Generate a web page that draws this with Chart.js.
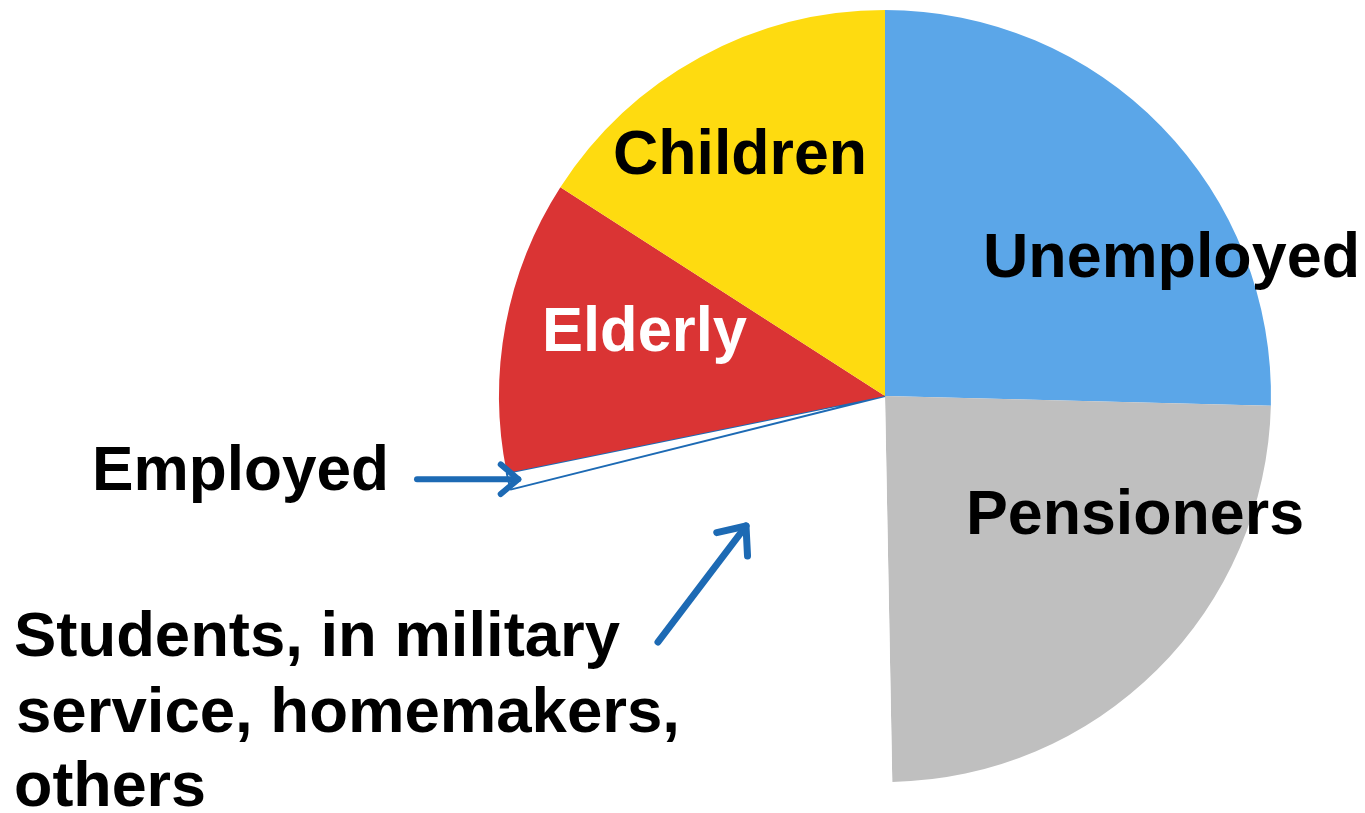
<!DOCTYPE html>
<html lang="en">
<head>
  <meta charset="UTF-8">
  <title>Population groups</title>
  <script src="https://cdn.jsdelivr.net/npm/chart.js@4.4.1/dist/chart.umd.min.js"></script>
  <style>
    body { margin: 0; background: #fff; }
    canvas { display: block; }
  </style>
</head>
<body>

  <canvas id="pie" width="1365" height="813"></canvas>

  <script>

  // slices, clockwise from 12 o'clock (share in %)
  const groups = ['Unemployed', 'Pensioners', 'Students, in military service, homemakers, others', 'Employed', 'Elderly', 'Children'];
  const shares = [25.4, 24.3, 21.4, 0.7, 12.3, 15.9];
  const colors = ['#5ba6e8', '#bfbfbf', '#ffffff', '#ffffff', '#da3434', '#fedb10'];

  const arrowBlue = '#1d6ab4';

  // text lines: [text, left, baseline, width, colour]
  const texts = [
    ['Children', 613, 174, 254, '#000'],
    ['Unemployed', 983, 277, 377, '#000'],
    ['Elderly', 542, 351, 205, '#fff'],
    ['Pensioners', 966, 534, 338, '#000'],
    ['Employed', 92, 490, 297, '#000'],
    ['Students, in military', 14, 656, 606, '#000'],
    ['service, homemakers,', 16, 732, 664, '#000'],
    ['others', 14, 806, 192, '#000']
  ];

  function drawText(ctx, t) {
    ctx.font = 'bold 63px "Liberation Sans", Arial, sans-serif';
    const m = ctx.measureText(t[0]).width;
    ctx.save();
    ctx.translate(t[1], t[2]);
    ctx.scale(t[3] / m, 1);
    ctx.fillStyle = t[4];
    ctx.textBaseline = 'alphabetic';
    ctx.fillText(t[0], 0, 0);
    ctx.restore();
  }

  function arrow(ctx, x0, y0, x1, y1, head, width) {
    const a = Math.atan2(y1 - y0, x1 - x0);
    ctx.save();
    ctx.strokeStyle = arrowBlue;
    ctx.lineWidth = width;
    ctx.lineCap = 'round';
    ctx.lineJoin = 'round';
    ctx.beginPath();
    ctx.moveTo(x0, y0);
    ctx.lineTo(x1, y1);
    ctx.stroke();
    ctx.beginPath();
    ctx.moveTo(x1 - head * Math.cos(a - 0.7), y1 - head * Math.sin(a - 0.7));
    ctx.lineTo(x1, y1);
    ctx.lineTo(x1 - head * Math.cos(a + 0.7), y1 - head * Math.sin(a + 0.7));
    ctx.stroke();
    ctx.restore();
  }

  const annotations = {
    id: 'annotations',
    afterDraw(chart) {
      const ctx = chart.ctx;
      texts.forEach(t => drawText(ctx, t));

      // arrow into the thin "Employed" slice
      const emp = chart.getDatasetMeta(0).data[3];
      const mid = (emp.startAngle + emp.endAngle) / 2;
      const tipX = emp.x + (emp.outerRadius - 10) * Math.cos(mid);
      const tipY = emp.y + (emp.outerRadius - 10) * Math.sin(mid);
      arrow(ctx, 417, tipY, tipX, tipY, 23, 6);

      // arrow into the students slice
      arrow(ctx, 658, 642, 746, 526, 30, 7);
    }
  };

  new Chart(document.getElementById('pie'), {
    type: 'pie',
    data: {
      labels: groups,
      datasets: [{
        data: shares,
        backgroundColor: colors,
        borderColor: ['#fff', '#fff', '#fff', arrowBlue, '#fff', '#fff'],
        borderWidth: [0, 0, 0, 2, 0, 0],
        hoverOffset: 0
      }]
    },
    options: {
      responsive: false,
      animation: false,
      layout: { padding: { left: 498, right: 93, top: 9, bottom: 30 } },
      plugins: {
        legend: { display: false },
        tooltip: { enabled: false }
      }
    },
    plugins: [annotations]
  });

  </script>
</body>
</html>
